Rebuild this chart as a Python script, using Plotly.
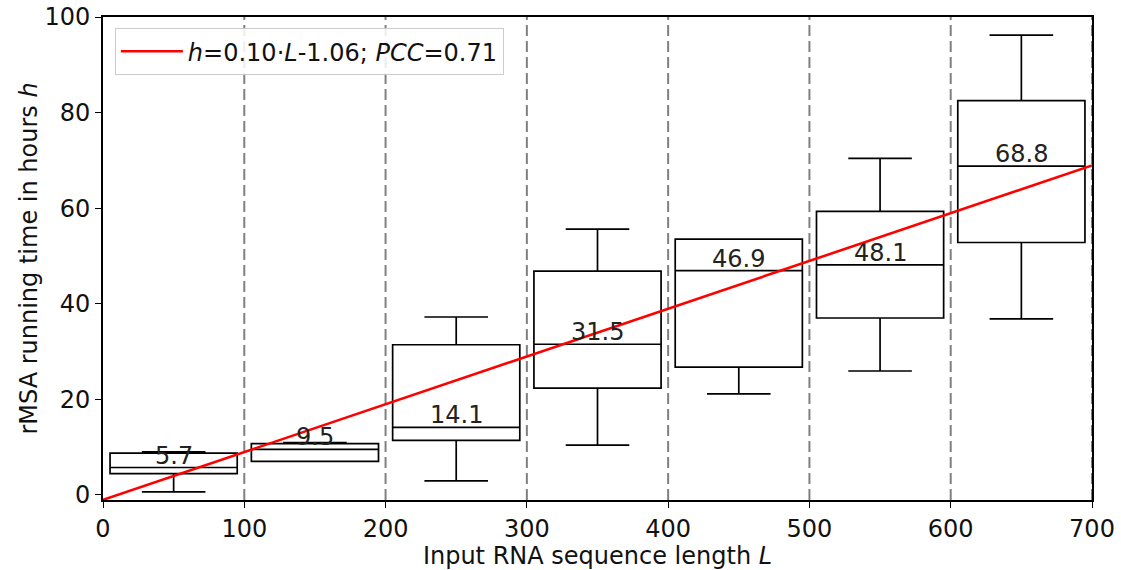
import plotly.graph_objects as go

# Length bins (nt) and running-time summaries (hours) per bin
bin_edges = [0, 100, 200, 300, 400, 500, 600, 700]
bin_centers = [50, 150, 250, 350, 450, 550, 650]
lower_whisker = [0.6, 7.0, 2.9, 10.4, 21.1, 25.9, 36.8]
q1 = [4.4, 7.0, 11.4, 22.3, 26.7, 37.0, 52.8]
median = [5.7, 9.5, 14.1, 31.5, 46.9, 48.1, 68.8]
q3 = [8.7, 10.7, 31.4, 46.8, 53.5, 59.3, 82.5]
upper_whisker = [9.0, 10.9, 37.2, 55.6, 53.5, 70.4, 96.2]

# Linear fit h = a*L + b
slope = 0.10
intercept = -1.06
pcc = 0.71

FONT = "DejaVu Sans"
FS = 24

fig = go.Figure()

fig.add_trace(go.Box(
    x=bin_centers,
    q1=q1,
    median=median,
    q3=q3,
    lowerfence=lower_whisker,
    upperfence=upper_whisker,
    width=90,
    whiskerwidth=0.5,
    line=dict(color="black", width=1.7),
    fillcolor="rgba(0,0,0,0)",
    boxpoints=False,
    showlegend=False,
    hoverinfo="skip",
))

fit_x = [bin_edges[0], bin_edges[-1]]
fit_y = [slope * v + intercept for v in fit_x]
fig.add_trace(go.Scatter(
    x=fit_x, y=fit_y, mode="lines",
    line=dict(color="#ff0000", width=2.6),
    name=f"<i>h</i>={slope:.2f}·<i>L</i>{intercept:.2f}; <i>PCC</i>={pcc:.2f}",
    showlegend=True,
))

# Bin separators
for e in bin_edges[1:]:
    fig.add_shape(type="line", xref="x", yref="paper", x0=e, x1=e, y0=0, y1=1,
                  line=dict(color="#808080", width=2, dash="11px,5px"), layer="below")

# Median labels
for c, m in zip(bin_centers, median):
    fig.add_annotation(x=c, y=m, text=f"{m:.1f}", showarrow=False,
                       yanchor="bottom", xanchor="center", yshift=-4,
                       font=dict(family=FONT, size=FS, color="#222222"))

axis_common = dict(
    showline=True, linecolor="black", linewidth=1.6, mirror=True,
    ticks="outside", ticklen=6, tickwidth=1.4, tickcolor="black",
    showgrid=False, zeroline=False, automargin=False,
    tickfont=dict(family=FONT, size=FS, color="#111111"),
)

fig.update_xaxes(
    range=[bin_edges[0], bin_edges[-1]],
    tickvals=bin_edges, ticktext=[str(v) for v in bin_edges],
    title=dict(text="Input RNA sequence length <i>L</i>",
               font=dict(family=FONT, size=FS, color="#111111"), standoff=2),
    **axis_common,
)
fig.update_yaxes(
    range=[-1.1, 100],
    tickvals=[0, 20, 40, 60, 80, 100],
    title=dict(text="rMSA running time in hours <i>h</i>",
               font=dict(family=FONT, size=FS, color="#111111"), standoff=0),
    **axis_common,
)

fig.update_layout(
    width=1121, height=570,
    margin=dict(l=103, r=29, t=17, b=70),
    plot_bgcolor="white", paper_bgcolor="white",
    font=dict(family=FONT, size=FS, color="black"),
    legend=dict(x=0.012, y=0.977, xanchor="left", yanchor="top",
                itemwidth=62,
                bgcolor="rgba(255,255,255,0.85)", bordercolor="#cccccc", borderwidth=1,
                font=dict(family=FONT, size=FS, color="#111111")),
)

fig.write_html("out.html")
